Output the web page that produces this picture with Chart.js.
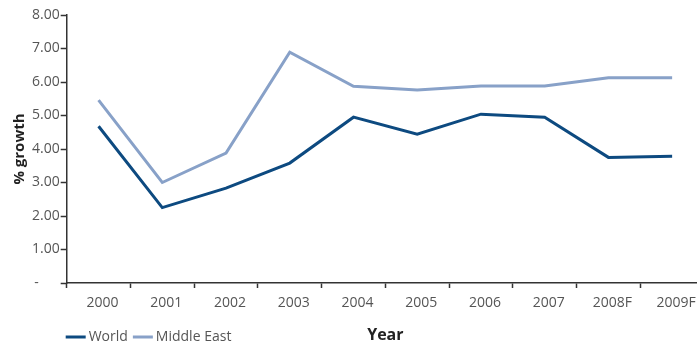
<!DOCTYPE html>
<html>
<head>
<meta charset="utf-8">
<script src="https://cdn.jsdelivr.net/npm/chart.js@4/dist/chart.umd.min.js"></script>
<style>
  html, body { margin: 0; padding: 0; overflow: hidden; background: #fff; }
  #wrap { width: 704px; height: 347px; }
</style>
</head>
<body>
<div id="wrap"><canvas id="c" width="704" height="347"></canvas></div>
<script>
// GDP growth, % per year
const years = ['2000', '2001', '2002', '2003', '2004', '2005', '2006', '2007', '2008F', '2009F'];
const world = [4.68, 2.25, 2.83, 3.58, 4.95, 4.44, 5.04, 4.95, 3.75, 3.78];
const middleEast = [5.46, 3.00, 3.88, 6.89, 5.87, 5.76, 5.88, 5.88, 6.13, 6.13];
const yTicks = [0, 1, 2, 3, 4, 5, 6, 7, 8];

const FONT = '"Open Sans", "DejaVu Sans", sans-serif';
const TEXT = '#555555';
const AXIS = '#333333';

// Legend drawn along the bottom-left, next to the x-axis title
const bottomLegend = {
  id: 'bottomLegend',
  afterDraw(chart) {
    const ctx = chart.ctx;
    ctx.save();
    ctx.font = '14px ' + FONT;
    ctx.textBaseline = 'middle';
    let x = chart.chartArea.left - 1;
    const y = 337;
    chart.data.datasets.forEach(ds => {
      ctx.strokeStyle = ds.borderColor;
      ctx.lineWidth = 3;
      ctx.beginPath();
      ctx.moveTo(x, y);
      ctx.lineTo(x + 20, y);
      ctx.stroke();
      x += 23;
      ctx.fillStyle = TEXT;
      ctx.fillText(ds.label, x, y);
      x += ctx.measureText(ds.label).width + 5;
    });
    ctx.restore();
  }
};

new Chart(document.getElementById('c'), {
  type: 'line',
  data: {
    labels: years,
    datasets: [
      { label: 'World', data: world, borderColor: '#0d4a80', borderWidth: 3, pointRadius: 0, tension: 0, fill: false },
      { label: 'Middle East', data: middleEast, borderColor: '#88a1c8', borderWidth: 3, pointRadius: 0, tension: 0, fill: false }
    ]
  },
  options: {
    responsive: false,
    animation: false,
    layout: { padding: { left: 11, right: 0, top: 15, bottom: 2 } },
    plugins: {
      legend: { display: false },
      tooltip: { enabled: false }
    },
    scales: {
      x: {
        type: 'category',
        offset: true,
        grid: { offset: true, drawOnChartArea: false, color: AXIS, tickLength: 5, tickWidth: 1.5 },
        border: { color: AXIS, width: 1.5 },
        ticks: { color: TEXT, font: { family: FONT, size: 14 }, padding: 7, labelOffset: 4, maxRotation: 0, autoSkip: false },
        title: { display: true, text: 'Year', color: '#222', font: { family: FONT, size: 16, weight: 'bold' }, padding: { top: 7, bottom: 0 } }
      },
      y: {
        min: 0,
        max: 8,
        afterBuildTicks(axis) { axis.ticks = yTicks.map(v => ({ value: v })); },
        grid: { drawOnChartArea: false, color: AXIS, tickLength: 6, tickWidth: 1.5 },
        border: { color: AXIS, width: 1.5 },
        ticks: {
          color: TEXT,
          font: { family: FONT, size: 14 },
          padding: 1,
          callback: v => v === 0 ? '-\u2002\u2002\u2002' : v.toFixed(2)
        },
        title: { display: true, text: '% growth', color: '#222', font: { family: FONT, size: 15, weight: 'bold' }, padding: { top: 0, bottom: 2 } }
      }
    }
  },
  plugins: [bottomLegend]
});
</script>
</body>
</html>
